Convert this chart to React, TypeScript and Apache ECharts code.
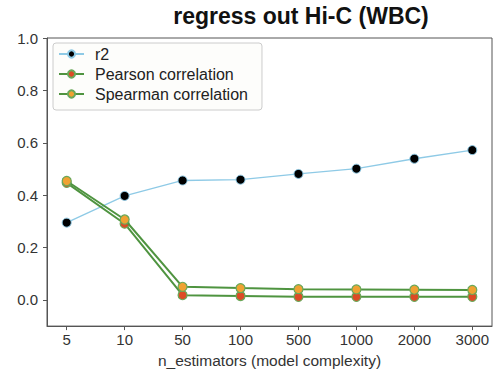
import React, { useEffect, useRef } from "react";
import * as echarts from "echarts";

const estimators = ["5", "10", "50", "100", "500", "1000", "2000", "3000"];
const r2 = [0.295, 0.397, 0.456, 0.459, 0.481, 0.501, 0.539, 0.572];
const pearson = [0.447, 0.291, 0.018, 0.015, 0.012, 0.012, 0.012, 0.012];
const spearman = [0.454, 0.307, 0.05, 0.045, 0.041, 0.04, 0.039, 0.038];
const yTicks = [0, 0.2, 0.4, 0.6, 0.8, 1.0];

const FONT = "Liberation Sans, Arial, Helvetica, sans-serif";
const GREEN = "#4f9440";
const AXIS = "#555555";

const toPoints = (vals: number[]) => vals.map((v, i) => [i, v]);

export default function App() {
  const ref = useRef<HTMLDivElement>(null);

  useEffect(() => {
    if (!ref.current) return;
    const chart = echarts.init(ref.current, null, { renderer: "svg" });
    const idx = estimators.map((_, i) => i);
    chart.setOption({
      animation: false,
      backgroundColor: "#ffffff",
      textStyle: { fontFamily: FONT },
      graphic: [
        {
          type: "text",
          x: 301,
          y: 16,
          style: {
            text: "regress out Hi-C (WBC)",
            fontFamily: FONT,
            fontWeight: "bold",
            fontSize: 23,
            fill: "#111",
            align: "center",
            verticalAlign: "middle",
          },
        },
      ],
      grid: {
        left: 47,
        right: 3,
        top: 38,
        bottom: 46,
        show: true,
        borderColor: AXIS,
        borderWidth: 1,
      },
      legend: {
        orient: "vertical",
        left: 53,
        top: 43,
        padding: [2, 14, 7, 5],
        itemWidth: 25,
        itemHeight: 9,
        itemGap: 2,
        backgroundColor: "#fdfdfb",
        borderColor: "#cccccc",
        borderWidth: 1,
        borderRadius: 3,
        textStyle: {
          fontFamily: FONT,
          fontSize: 16,
          color: "#222",
          lineHeight: 18,
          padding: [0, 0, 0, 6],
        },
        data: ["r2", "Pearson correlation", "Spearman correlation"],
      },
      xAxis: {
        type: "value",
        min: -0.34,
        max: 7.34,
        name: "n_estimators (model complexity)",
        nameLocation: "middle",
        nameGap: 21,
        nameTextStyle: { fontFamily: FONT, fontSize: 15.5, color: "#333" },
        axisLine: { show: true, onZero: false, lineStyle: { color: AXIS } },
        axisTick: { show: true, customValues: idx, length: 4, lineStyle: { color: AXIS } },
        axisLabel: {
          customValues: idx,
          formatter: (v: number) => estimators[Math.round(v)] ?? "",
          fontFamily: FONT,
          fontSize: 15,
          color: "#333",
          margin: 6,
        },
        splitLine: { show: false },
      },
      yAxis: {
        type: "value",
        min: -0.1,
        max: 1.0,
        axisLine: { show: true, onZero: false, lineStyle: { color: AXIS } },
        axisTick: { show: true, customValues: yTicks, length: 4, lineStyle: { color: AXIS } },
        axisLabel: {
          customValues: yTicks,
          formatter: (v: number) => v.toFixed(1),
          fontFamily: FONT,
          fontSize: 15,
          color: "#333",
          margin: 9,
        },
        splitLine: { show: false },
      },
      series: [
        {
          name: "r2",
          type: "line",
          data: toPoints(r2),
          symbol: "circle",
          symbolSize: 9,
          lineStyle: { color: "#8ecae6", width: 1.3 },
          itemStyle: { color: "#000000", borderColor: "#8ecae6", borderWidth: 1 },
          z: 3,
        },
        {
          name: "Pearson correlation",
          type: "line",
          data: toPoints(pearson),
          symbol: "circle",
          symbolSize: 9,
          lineStyle: { color: GREEN, width: 2 },
          itemStyle: { color: "#dc4b26", borderColor: "#6aa85a", borderWidth: 1.2 },
          z: 4,
        },
        {
          name: "Spearman correlation",
          type: "line",
          data: toPoints(spearman),
          symbol: "circle",
          symbolSize: 9,
          lineStyle: { color: GREEN, width: 2 },
          itemStyle: { color: "#f0a232", borderColor: "#6aa85a", borderWidth: 1.2 },
          z: 5,
        },
      ],
    });
    return () => chart.dispose();
  }, []);

  return (
    <div
      ref={ref}
      style={{ position: "fixed", left: 0, top: 0, width: 495, height: 373 }}
    />
  );
}
